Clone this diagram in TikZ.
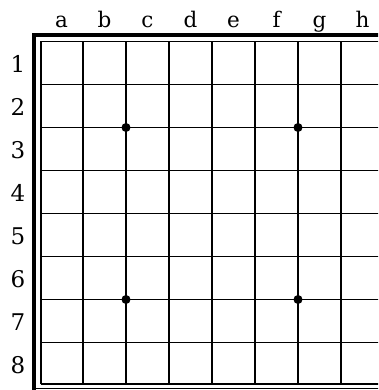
\documentclass[tikz,border=0pt]{standalone}
\usepackage{fontspec}
\setmainfont{DejaVu Serif}
\begin{document}
\begin{tikzpicture}[x=1pt,y=-1pt,
  gridline/.style={line width=1.9pt,black},
  outerthick/.style={line width=3.8pt,black},
  innerline/.style={line width=1.9pt,black},
  thinline/.style={line width=1.4pt,black},
  hoshi/.style={circle,fill=black,inner sep=0pt,minimum size=9pt},
  collabel/.style={anchor=base,inner sep=0pt,font=\fontsize{21.5}{24}\selectfont},
  rowlabel/.style={anchor=center,inner sep=0pt,font=\fontsize{23}{25}\selectfont}]
\useasboundingbox (0,0) rectangle (378,390);
\begin{scope}
\clip (0,0) rectangle (378,390);
% vertical grid lines
\foreach \k in {1,...,8} {
  \draw[gridline] (40+43*\k,41.5) -- (40+43*\k,384.5);
}
% horizontal grid lines
\foreach \k in {1,...,7} {
  \draw[gridline] (41,41.5+43*\k) -- (380,41.5+43*\k);
}
% inner border
\draw[innerline] (41,384.3) -- (41,41.5) -- (380,41.5);
\draw[innerline] (41,384.3) -- (380,384.3);
% outer border
\draw[outerthick] (34.3,389.5) -- (34.3,35) -- (380,35);
\draw[thinline] (34.3,388.3) -- (380,388.3);
\end{scope}
% star points
\node[hoshi] (s1) at (126,127.5) {};
\node[hoshi] (s2) at (298,127.5) {};
\node[hoshi] (s3) at (126,299.5) {};
\node[hoshi] (s4) at (298,299.5) {};
% column labels
\foreach \l [count=\i from 0] in {a,b,c,d,e,f,g,h} {
  \node[collabel] (col\l) at (61.5+43*\i,28) {\l};
}
% row labels
\foreach \n [count=\i from 0] in {1,...,8} {
  \node[rowlabel] (row\n) at (18,64+43*\i) {\n};
}
\end{tikzpicture}
\end{document}
